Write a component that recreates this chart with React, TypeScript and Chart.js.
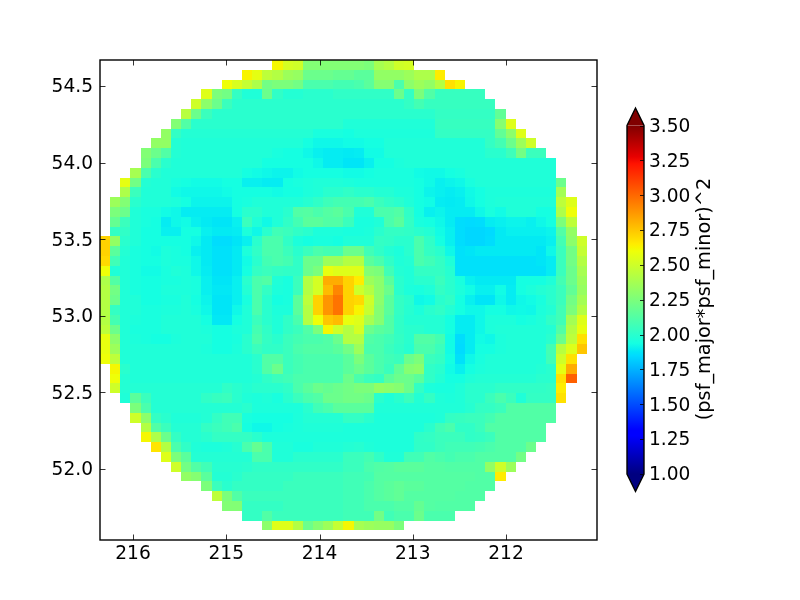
import React, { useEffect, useRef } from "react";
import { Chart, registerables } from "chart.js";

Chart.register(...registerables);

const colorLabel = "(psf_major*psf_minor)^2";
const xTicks = [216, 215, 214, 213, 212];
const yTicks = [52.0, 52.5, 53.0, 53.5, 54.0, 54.5];
const cbTicks = [1.0, 1.25, 1.5, 1.75, 2.0, 2.25, 2.5, 2.75, 3.0, 3.25, 3.5];
const xLeft = 216.354;
const xRight = 211.024;
const yTop = 54.67;
const yBottom = 51.537;
const colStep = 0.10875;
const rowStep = 0.06397;
const vMin = 1.0;
const vMax = 3.5;

const jetR = [[0, 0], [0.35, 0], [0.66, 1], [0.89, 1], [1, 0.5]];
const jetG = [[0, 0], [0.125, 0], [0.375, 1], [0.64, 1], [0.91, 0], [1, 0]];
const jetB = [[0, 0.5], [0.11, 1], [0.34, 1], [0.65, 0], [1, 0]];

const rowStarts = [17, 14, 12, 10, 9, 8, 7, 6, 5, 4, 4, 3, 2, 2, 1, 1, 1, 1, 0, 0, 0, 0, 0, 0, 0, 0, 0, 0, 0, 0, 0, 1, 1, 1, 2, 3, 3, 4, 4, 5, 6, 7, 8, 10, 11, 12, 14, 16];

const row00 = [2.62,2.52,2.5,2.27,2.27,2.27,2.27,2.27,2.27,2.25,2.38,2.42,2.5,2.52];
const row01 = [2.63,2.57,2.45,2.42,2.35,2.33,2.2,2.2,2.2,2.18,2.18,2.15,2.15,2.32,2.32,2.32,2.35,2.4,2.4,2.65];
const row02 = [2.6,2.53,2.47,2.4,2.22,2.25,2.25,2.22,2.1,2.1,2.1,2.08,2.08,2.1,2.15,2.28,2.28,2.1,2.3,2.35,2.32,2.42,2.68,2.63];
const row03 = [2.55,2.25,2.22,2.03,1.97,1.97,2.2,2.02,1.98,1.98,2.0,2.0,2.0,2.02,2.02,2.02,2.02,2.02,2.02,2.2,2.03,2.25,2.12,2.04,2.04,2.04,2.04,2.04];
const row04 = [2.5,2.3,2.2,2.05,2.0,2.0,2.0,2.0,2.0,2.0,2.0,2.0,2.0,2.0,2.0,2.0,2.0,2.0,2.0,2.0,2.0,2.03,2.08,2.04,2.04,2.04,2.04,2.04,2.04,2.04];
const row05 = [2.43,2.2,2.05,2.0,2.0,2.0,2.0,2.0,2.0,2.0,2.0,2.0,2.0,2.0,2.0,2.0,2.0,2.0,2.0,2.0,2.0,2.0,2.0,2.0,2.0,2.03,2.03,2.03,2.03,2.03,2.03,2.17];
const row06 = [2.27,2.12,2.0,2.0,2.0,2.0,2.0,2.0,2.0,2.0,2.0,2.0,2.0,2.0,2.0,2.0,2.0,1.97,1.97,1.97,1.97,1.97,1.97,1.97,1.97,1.97,2.04,2.04,2.04,2.04,2.04,2.04,2.28,2.55];
const row07 = [2.32,2.03,1.98,1.98,1.98,1.98,1.98,1.98,1.98,1.98,1.98,1.98,1.98,1.98,1.98,1.95,1.95,1.95,1.94,1.96,1.96,1.96,1.96,1.96,1.96,1.96,1.96,2.03,2.03,2.03,2.03,2.03,2.03,2.17,2.3,2.55];
const row08 = [2.32,2.32,1.98,1.97,1.97,1.97,1.97,1.97,1.97,1.97,1.97,1.97,1.97,1.97,1.97,1.94,1.92,1.92,1.92,1.93,1.93,1.94,1.94,1.97,1.97,1.97,1.97,1.97,1.97,1.97,1.97,1.97,1.97,2.03,2.08,2.2,2.35,2.5];
const row09 = [2.27,2.2,2.12,1.98,1.97,1.97,1.97,1.97,1.97,1.97,1.97,1.97,1.97,1.95,1.94,1.94,1.92,1.9,1.89,1.89,1.885,1.89,1.93,1.93,1.97,1.97,1.97,1.97,1.97,1.97,1.97,1.97,1.97,1.97,2.0,2.0,2.06,2.22,2.05,2.05];
const row10 = [2.25,2.1,2.0,1.97,1.97,1.97,1.97,1.97,1.97,1.97,1.97,1.97,1.94,1.94,1.94,1.94,1.94,1.92,1.89,1.89,1.875,1.875,1.9,1.94,1.94,1.96,1.97,1.97,1.97,1.97,1.97,1.97,1.97,1.97,1.97,1.97,1.97,1.97,1.97,1.97,1.97];
const row11 = [2.38,2.1,2.0,1.97,1.97,1.97,1.97,1.97,1.97,1.97,1.97,1.94,1.93,1.92,1.91,1.91,1.93,1.94,1.94,1.94,1.94,1.93,1.93,1.94,1.95,1.95,1.95,1.95,1.93,1.925,1.925,1.94,1.95,1.97,1.97,1.97,1.97,1.97,1.97,1.97,1.97,1.97];
const row12 = [2.57,2.22,1.98,1.97,1.97,1.95,1.94,1.93,1.93,1.93,1.94,1.94,1.9,1.9,1.89,1.89,1.94,1.95,1.96,1.97,1.97,1.97,1.96,1.95,1.95,1.95,1.95,1.95,1.95,1.94,1.925,1.9,1.91,1.92,1.95,1.97,1.97,1.97,1.97,1.97,1.97,1.97,1.97,2.2];
const row13 = [2.4,2.05,1.97,1.97,1.97,1.93,1.92,1.92,1.92,1.92,1.93,1.94,1.94,1.94,1.94,1.93,1.94,1.94,1.96,1.97,2.0,2.0,2.02,2.0,2.0,1.98,1.98,1.96,1.96,1.94,1.91,1.9,1.89,1.9,1.925,1.94,1.96,1.96,1.96,1.96,1.96,1.96,1.96,2.37];
const row14 = [2.35,2.27,2.0,1.97,1.97,1.97,1.96,1.94,1.91,1.91,1.91,1.91,1.94,1.95,1.97,1.97,1.97,1.97,1.97,1.99,2.02,2.06,2.08,2.08,2.08,2.1,2.05,2.02,2.0,1.97,1.94,1.93,1.89,1.885,1.89,1.92,1.94,1.96,1.97,1.97,1.97,1.97,1.97,1.97,2.45,2.55];
const row15 = [2.25,2.2,1.97,1.95,1.95,1.93,1.92,1.89,1.89,1.89,1.89,1.89,1.94,2.0,2.0,1.97,1.97,2.0,2.12,2.13,2.1,2.13,2.15,2.1,1.97,1.97,2.1,2.1,2.12,2.02,1.94,1.9,1.91,1.89,1.89,1.89,1.92,1.95,1.93,1.97,1.97,1.97,1.94,1.94,2.4,2.6];
const row16 = [2.18,2.05,1.97,1.95,1.94,1.89,1.92,1.93,1.9,1.885,1.875,1.875,1.9,2.05,1.97,1.925,1.97,2.02,2.08,2.15,2.15,2.12,2.12,2.05,1.95,1.95,1.97,2.1,2.15,2.03,1.95,1.94,1.92,1.89,1.855,1.85,1.855,1.89,1.9,1.91,1.91,1.9,1.92,1.94,2.25,2.45];
const row17 = [2.03,2.02,1.97,1.94,1.94,1.9,1.9,1.94,1.94,1.9,1.885,1.885,1.89,1.96,1.92,2.0,2.07,2.05,2.02,2.0,1.96,1.96,1.96,1.95,1.95,1.96,2.0,2.03,2.03,2.02,2.0,1.98,1.93,1.9,1.855,1.84,1.84,1.85,1.885,1.9,1.9,1.9,1.9,1.91,2.12,2.32];
const row18 = [2.72,2.32,2.0,1.97,1.94,1.94,1.94,1.94,1.94,1.92,1.885,1.855,1.855,1.875,1.9,2.0,2.1,2.1,2.02,1.96,1.94,1.95,1.95,1.94,1.97,1.97,1.97,2.03,2.02,2.0,2.0,2.1,2.02,1.94,1.9,1.855,1.84,1.84,1.855,1.885,1.885,1.885,1.885,1.885,1.9,2.08,2.3,2.5];
const row19 = [2.72,2.15,1.98,1.95,1.94,1.93,1.96,1.95,1.94,1.9,1.885,1.865,1.865,1.885,1.96,2.02,2.1,2.1,2.05,2.0,2.05,2.1,2.08,2.08,2.2,2.2,2.07,2.02,1.98,1.96,2.0,2.1,2.03,2.0,1.92,1.865,1.875,1.885,1.885,1.885,1.885,1.885,1.885,1.875,1.92,2.05,2.22,2.47];
const row20 = [2.7,2.07,1.97,1.95,1.94,1.94,1.96,1.95,1.95,1.92,1.885,1.865,1.865,1.885,1.93,2.0,2.08,2.1,2.08,2.02,2.2,2.2,2.35,2.35,2.42,2.42,2.15,2.1,2.02,1.97,1.98,2.1,2.07,2.03,1.97,1.865,1.865,1.865,1.865,1.865,1.865,1.865,1.865,1.875,1.89,2.05,2.22,2.42];
const row21 = [2.6,1.97,1.97,1.95,1.93,1.93,1.95,1.97,1.96,1.92,1.89,1.865,1.865,1.885,1.94,2.03,2.05,2.03,2.02,2.02,2.2,2.25,2.58,2.55,2.55,2.55,2.27,2.25,2.07,1.98,1.97,2.03,2.03,2.03,1.99,1.865,1.865,1.865,1.865,1.865,1.865,1.865,1.865,1.865,1.89,2.05,2.2,2.38];
const row22 = [2.4,2.12,1.97,1.95,1.94,1.94,1.95,1.95,1.96,1.95,1.9,1.875,1.875,1.9,2.0,2.1,2.12,1.97,1.95,2.05,2.42,2.52,2.82,2.82,2.72,2.65,2.35,2.3,2.15,2.0,1.97,2.0,2.0,2.05,2.0,1.95,1.9,1.885,1.885,1.885,1.885,1.94,1.94,1.94,1.97,2.08,2.2,2.35];
const row23 = [2.42,2.22,1.97,1.95,1.94,1.94,1.96,1.96,1.96,1.95,1.9,1.88,1.88,1.9,1.98,2.1,2.03,1.96,1.95,2.05,2.42,2.52,2.78,2.92,2.72,2.5,2.42,2.3,2.2,2.0,1.96,1.95,1.97,2.03,2.0,1.96,1.93,1.9,1.9,1.93,1.89,1.94,1.96,1.98,2.0,2.05,2.17,2.33];
const row24 = [2.42,2.2,1.97,1.97,1.94,1.94,1.95,1.95,1.97,1.94,1.91,1.875,1.875,1.9,1.95,2.1,2.0,1.94,1.95,2.15,2.45,2.72,2.88,2.97,2.72,2.7,2.5,2.3,2.15,2.03,2.0,1.92,1.93,2.0,2.02,1.94,1.9,1.875,1.875,1.92,1.89,1.92,1.93,1.95,2.0,2.05,2.22,2.37];
const row25 = [2.42,2.03,1.97,1.97,1.95,1.95,1.96,1.96,1.97,1.95,1.92,1.875,1.875,1.92,1.97,2.1,2.0,1.96,1.96,2.15,2.42,2.72,2.88,2.97,2.72,2.63,2.48,2.28,2.15,2.03,1.99,1.96,2.0,2.02,1.98,1.94,1.92,1.92,1.94,1.94,1.92,1.925,1.92,1.96,1.98,2.07,2.25,2.42];
const row26 = [2.42,2.08,1.97,1.96,1.95,1.95,1.97,1.97,1.97,1.97,1.94,1.88,1.88,1.94,1.97,2.05,2.0,1.97,2.02,2.1,2.42,2.6,2.75,2.78,2.58,2.55,2.38,2.28,2.12,2.02,1.98,1.98,1.98,1.98,1.94,1.89,1.89,1.92,1.96,1.96,1.96,1.94,1.95,1.97,2.02,2.07,2.37,2.55];
const row27 = [2.45,2.2,1.97,1.95,1.95,1.95,1.97,1.97,1.97,1.97,1.96,1.94,1.94,1.96,1.97,2.08,2.02,1.97,2.02,2.05,2.12,2.25,2.62,2.5,2.42,2.52,2.2,2.15,2.12,2.02,2.0,2.0,1.98,1.98,1.94,1.89,1.89,1.92,1.96,1.97,1.97,1.97,1.97,1.97,1.98,2.12,2.42,2.58];
const row28 = [2.58,2.3,1.97,1.96,1.95,1.94,1.94,1.96,1.97,1.97,1.97,1.94,1.94,1.95,2.0,2.1,2.03,2.0,2.05,2.08,2.1,2.1,2.12,2.2,2.42,2.42,2.12,2.1,2.07,2.03,2.0,2.12,2.12,2.08,1.93,1.855,1.89,1.93,1.92,1.96,1.97,1.97,1.97,1.97,2.0,2.2,2.45,2.68];
const row29 = [2.58,2.35,1.97,1.97,1.97,1.97,1.97,1.97,1.97,1.97,1.96,1.94,1.94,1.96,2.0,2.05,2.02,2.02,2.05,2.1,2.12,2.12,2.12,2.15,2.22,2.35,2.1,2.1,2.05,2.02,1.99,2.1,2.1,2.05,1.93,1.85,1.89,1.94,1.94,1.96,1.97,1.97,1.97,1.97,2.08,2.43,2.55,2.75];
const row30 = [2.6,2.45,1.97,1.97,1.97,1.97,1.97,1.97,1.97,1.97,1.97,1.97,1.97,1.97,1.97,2.0,2.12,2.12,2.05,2.08,2.1,2.1,2.1,2.1,2.15,2.25,2.15,2.1,2.07,2.05,2.2,2.25,2.05,2.03,1.94,1.865,1.92,1.95,1.97,1.97,1.97,1.97,1.97,1.97,2.07,2.5,2.68];
const row31 = [2.62,2.0,1.97,1.97,1.97,1.97,1.97,1.97,1.97,1.97,1.97,1.97,1.97,1.97,2.0,2.12,2.2,2.05,2.08,2.1,2.1,2.1,2.1,2.15,2.2,2.15,2.1,2.05,2.17,2.28,2.3,2.02,2.0,1.93,1.9,1.94,1.96,1.97,1.97,1.97,1.97,1.97,1.98,2.0,2.57,2.82];
const row32 = [2.6,1.98,1.97,1.97,1.97,1.97,1.97,1.97,1.97,1.97,1.97,1.97,1.97,1.97,1.98,2.02,2.05,2.07,2.1,2.1,2.1,2.1,2.1,2.2,2.1,2.05,2.03,2.15,2.2,2.2,2.15,2.02,1.98,1.94,1.94,1.97,1.98,1.98,1.98,1.98,1.98,1.98,2.0,2.0,2.68,3.02];
const row33 = [2.5,1.98,1.98,1.98,1.98,1.98,1.98,1.98,1.98,1.98,1.98,2.02,2.0,1.98,2.0,2.0,2.0,2.02,2.1,2.15,2.2,2.18,2.2,2.22,2.25,2.25,2.32,2.3,2.28,2.2,2.03,1.96,1.95,1.95,1.97,2.0,2.0,2.0,2.02,2.02,2.02,2.02,2.02,2.03,2.65];
const row34 = [1.97,2.15,2.05,1.98,1.98,1.98,1.98,1.98,2.02,2.04,2.05,2.0,1.97,1.96,1.97,1.95,2.0,2.05,2.1,2.12,2.2,2.2,2.22,2.22,2.2,2.0,1.97,2.0,2.05,1.98,2.03,1.97,1.96,1.97,2.0,2.0,2.05,2.1,2.05,1.97,2.03,2.03,2.03,2.68];
const row35 = [2.25,2.1,1.98,1.98,1.98,1.98,1.98,1.98,1.98,1.98,1.98,2.0,1.96,1.96,1.96,1.96,1.96,2.0,2.07,2.1,2.15,2.15,2.15,2.15,1.97,1.97,1.97,1.97,1.97,1.97,1.97,1.97,1.97,1.99,2.03,2.03,2.05,2.12,2.12,2.12,2.12,2.12];
const row36 = [2.5,2.3,2.03,2.0,1.97,1.97,1.97,1.98,2.03,2.07,2.07,1.95,1.94,1.94,1.94,1.94,1.96,1.98,1.98,1.98,1.98,2.03,2.03,2.0,1.96,1.96,1.96,1.96,1.96,1.96,1.97,2.03,2.04,2.05,2.05,2.08,2.12,2.12,2.12,2.12,2.12,2.12];
const row37 = [2.42,2.12,2.05,1.98,1.98,1.98,2.03,2.05,2.07,2.1,1.94,1.92,1.92,1.94,1.95,1.96,1.97,1.97,1.97,1.97,1.96,1.96,1.96,1.96,1.96,1.96,1.96,1.96,2.0,2.07,2.1,2.02,2.02,2.05,2.12,2.12,2.12,2.12,2.12,2.12];
const row38 = [2.62,2.4,2.2,2.03,1.98,1.98,2.0,2.03,2.03,2.03,2.03,2.0,1.96,1.96,1.96,1.96,1.96,1.96,1.96,1.96,1.96,1.96,1.96,1.96,1.96,1.96,1.96,2.02,2.03,2.05,2.05,2.05,2.02,2.03,2.05,2.12,2.12,2.12,2.12,2.12];
const row39 = [2.67,2.42,2.1,2.02,1.97,1.96,1.96,1.97,1.99,2.1,2.18,2.1,1.97,1.97,1.95,1.95,1.97,1.97,1.97,1.98,1.99,1.97,1.96,1.96,1.96,1.96,2.02,2.02,2.05,2.07,2.07,2.07,2.08,2.1,2.12,2.12,2.12,2.2];
const row40 = [2.55,2.25,2.15,1.98,1.98,1.98,1.98,1.98,1.98,2.1,2.1,1.97,1.97,2.0,2.0,2.0,2.0,2.0,2.05,2.05,2.08,2.02,1.97,1.97,2.07,2.07,2.12,2.1,2.08,2.1,2.1,2.12,2.12,2.12,2.12,2.22];
const row41 = [2.5,2.22,2.12,2.07,1.99,1.99,1.99,2.0,2.02,2.02,2.02,2.02,2.02,2.02,2.02,2.02,2.02,2.05,2.05,2.1,2.12,2.13,2.15,2.15,2.15,2.13,2.13,2.12,2.12,2.12,2.12,2.32,2.5,2.35];
const row42 = [2.32,2.28,2.15,1.98,1.98,2.0,2.03,2.03,2.03,2.03,2.03,2.05,2.05,2.05,2.05,2.05,2.07,2.07,2.08,2.13,2.13,2.13,2.13,2.13,2.13,2.13,2.13,2.13,2.13,2.12,2.12,2.65];
const row43 = [2.25,2.05,2.0,2.03,2.03,2.03,2.03,2.03,2.05,2.05,2.05,2.05,2.05,2.05,2.07,2.07,2.1,2.13,2.15,2.17,2.15,2.15,2.13,2.13,2.13,2.13,2.12,2.12,2.12];
const row44 = [2.45,2.25,2.12,2.05,2.05,2.05,2.05,2.05,2.05,2.05,2.05,2.05,2.05,2.07,2.07,2.1,2.13,2.15,2.17,2.13,2.13,2.13,2.13,2.13,2.12,2.12,2.12];
const row45 = [2.27,2.27,2.03,2.03,2.03,2.03,2.05,2.05,2.05,2.05,2.05,2.05,2.07,2.07,2.1,2.1,2.1,2.12,2.12,2.18,2.13,2.12,2.12,2.12,2.12];
const row46 = [2.03,2.03,2.12,2.05,2.05,2.05,2.05,2.05,2.05,2.05,2.07,2.07,2.07,2.22,2.07,2.1,2.1,2.2,2.1,2.1,2.1];
const row47 = [2.3,2.55,2.55,2.42,2.2,2.28,2.35,2.47,2.62,2.38,2.35,2.33,2.33,2.25];

const rows = [row00,row01,row02,row03,row04,row05,row06,row07,row08,row09,row10,row11,row12,row13,row14,row15,row16,row17,row18,row19,row20,row21,row22,row23,row24,row25,row26,row27,row28,row29,row30,row31,row32,row33,row34,row35,row36,row37,row38,row39,row40,row41,row42,row43,row44,row45,row46,row47];

const FONT = { family: "'DejaVu Sans'", size: 18.6 };

function lerp(stops: number[][], t: number) {
  for (let i = 1; i < stops.length; i++) {
    if (t <= stops[i][0]) {
      const [a, av] = stops[i - 1];
      const [b, bv] = stops[i];
      return av + ((bv - av) * (t - a)) / (b - a);
    }
  }
  return stops[stops.length - 1][1];
}

function jet(t: number) {
  const k = Math.min(1, Math.max(0, t));
  const c = (s: number[][]) => Math.round(lerp(s, k) * 255);
  return `rgb(${c(jetR)},${c(jetG)},${c(jetB)})`;
}

const colorOf = (v: number) => jet((v - vMin) / (vMax - vMin));

const cells = rows.flatMap((row, r) =>
  row.map((v, i) => ({
    x: xLeft - (rowStarts[r] + i + 0.5) * colStep,
    y: yTop - (r + 0.5) * rowStep,
    v,
  }))
);

function inwardTicks(ctx: CanvasRenderingContext2D, chart: any, len: number, both: boolean) {
  const { left, right, top, bottom } = chart.chartArea;
  ctx.strokeStyle = "#000";
  ctx.lineWidth = 0.8;
  ctx.beginPath();
  if (both) {
    for (const t of chart.scales.x.ticks) {
      const p = Math.round(chart.scales.x.getPixelForValue(t.value)) + 0.5;
      ctx.moveTo(p, bottom);
      ctx.lineTo(p, bottom - len);
      ctx.moveTo(p, top);
      ctx.lineTo(p, top + len);
    }
  }
  for (const t of chart.scales.y.ticks) {
    const p = Math.round(chart.scales.y.getPixelForValue(t.value)) + 0.5;
    if (both) {
      ctx.moveTo(left, p);
      ctx.lineTo(left + len, p);
    }
    ctx.moveTo(right, p);
    ctx.lineTo(right - len, p);
  }
  ctx.stroke();
}

const heatmapPlugin = {
  id: "heatmapCells",
  beforeDatasetsDraw(chart: any) {
    const { ctx, scales } = chart;
    ctx.save();
    for (const d of chart.data.datasets[0].data) {
      const x0 = Math.round(scales.x.getPixelForValue(d.x + colStep / 2));
      const x1 = Math.round(scales.x.getPixelForValue(d.x - colStep / 2));
      const y0 = Math.round(scales.y.getPixelForValue(d.y + rowStep / 2));
      const y1 = Math.round(scales.y.getPixelForValue(d.y - rowStep / 2));
      ctx.fillStyle = colorOf(d.v);
      ctx.fillRect(x0, y0, x1 - x0, y1 - y0);
    }
    ctx.restore();
  },
  afterDraw(chart: any) {
    const { ctx, chartArea } = chart;
    ctx.save();
    inwardTicks(ctx, chart, 5.5, true);
    ctx.strokeStyle = "#000";
    ctx.lineWidth = 1.4;
    ctx.strokeRect(chartArea.left, chartArea.top, chartArea.right - chartArea.left, chartArea.bottom - chartArea.top);
    ctx.restore();
  },
};

const colorbarPlugin = {
  id: "colorbarFrame",
  afterDraw(chart: any) {
    const { ctx, chartArea } = chart;
    const { left, right, top, bottom } = chartArea;
    const mid = (left + right) / 2;
    const tip = 17.5;
    ctx.save();
    ctx.fillStyle = jet(1);
    ctx.beginPath();
    ctx.moveTo(left, top);
    ctx.lineTo(mid, top - tip);
    ctx.lineTo(right, top);
    ctx.closePath();
    ctx.fill();
    ctx.fillStyle = jet(0);
    ctx.beginPath();
    ctx.moveTo(left, bottom);
    ctx.lineTo(mid, bottom + tip);
    ctx.lineTo(right, bottom);
    ctx.closePath();
    ctx.fill();
    inwardTicks(ctx, chart, 4, false);
    ctx.strokeStyle = "#000";
    ctx.lineWidth = 1.4;
    ctx.beginPath();
    ctx.moveTo(left, top);
    ctx.lineTo(mid, top - tip);
    ctx.lineTo(right, top);
    ctx.lineTo(right, bottom);
    ctx.lineTo(mid, bottom + tip);
    ctx.lineTo(left, bottom);
    ctx.closePath();
    ctx.stroke();
    ctx.translate(705, 299);
    ctx.rotate(-Math.PI / 2);
    ctx.fillStyle = "#000";
    ctx.font = `19.3px ${FONT.family}`;
    ctx.textAlign = "center";
    ctx.textBaseline = "middle";
    ctx.fillText(colorLabel, 0, 0);
    ctx.restore();
  },
};

const noGrid = { display: false, drawTicks: false };

export default function App() {
  const mainRef = useRef<HTMLCanvasElement>(null);
  const barRef = useRef<HTMLCanvasElement>(null);

  useEffect(() => {
    const main = new Chart(mainRef.current!, {
      type: "scatter",
      data: { datasets: [{ data: cells, pointRadius: 0, pointHoverRadius: 0 }] },
      plugins: [heatmapPlugin],
      options: {
        animation: false,
        responsive: false,
        devicePixelRatio: 1,
        events: [],
        layout: { padding: { top: 60, right: 203, left: 0, bottom: 0 } },
        plugins: { legend: { display: false }, tooltip: { enabled: false } },
        scales: {
          x: {
            type: "linear",
            reverse: true,
            min: xRight,
            max: xLeft,
            grid: noGrid,
            border: { display: false },
            afterBuildTicks: (s: any) => { s.ticks = xTicks.map((value) => ({ value })); },
            afterFit: (s: any) => { s.height = 60; },
            ticks: { color: "#000", font: FONT, padding: 3, maxRotation: 0, autoSkip: false, callback: (v: any) => String(v) },
          },
          y: {
            type: "linear",
            min: yBottom,
            max: yTop,
            grid: noGrid,
            border: { display: false },
            afterBuildTicks: (s: any) => { s.ticks = yTicks.map((value) => ({ value })); },
            afterFit: (s: any) => { s.width = 100; },
            ticks: { color: "#000", font: FONT, padding: 7, labelOffset: 1.5, autoSkip: false, callback: (v: any) => Number(v).toFixed(1) },
          },
        },
      },
    } as any);

    const stops = [0, 0.11, 0.125, 0.34, 0.35, 0.375, 0.64, 0.65, 0.66, 0.89, 0.91, 1];
    const bar = new Chart(barRef.current!, {
      type: "bar",
      data: {
        labels: [""],
        datasets: [
          {
            data: [[vMin, vMax]],
            borderWidth: 0,
            barPercentage: 1,
            categoryPercentage: 1,
            backgroundColor: (c: any) => {
              const a = c.chart.chartArea;
              if (!a) return "#000";
              const g = c.chart.ctx.createLinearGradient(0, a.bottom, 0, a.top);
              stops.forEach((s) => g.addColorStop(s, jet(s)));
              return g;
            },
          },
        ],
      },
      plugins: [colorbarPlugin],
      options: {
        animation: false,
        responsive: false,
        devicePixelRatio: 1,
        events: [],
        layout: { padding: { left: 627, top: 125.5, bottom: 126, right: 0 } },
        plugins: { legend: { display: false }, tooltip: { enabled: false } },
        scales: {
          x: { display: false, grid: noGrid },
          y: {
            position: "right",
            type: "linear",
            min: vMin,
            max: vMax,
            grid: noGrid,
            border: { display: false },
            afterBuildTicks: (s: any) => { s.ticks = cbTicks.map((value) => ({ value })); },
            afterFit: (s: any) => { s.width = 800 - 627 - 17; },
            ticks: { color: "#000", font: FONT, padding: 5, labelOffset: 1.5, autoSkip: false, callback: (v: any) => Number(v).toFixed(2) },
            title: { display: false },
          },
        },
      },
    } as any);

    return () => {
      main.destroy();
      bar.destroy();
    };
  }, []);

  const abs: React.CSSProperties = { position: "absolute", left: 0, top: 0 };
  return (
    <div style={{ ...abs, width: 800, height: 600, background: "#fff" }}>
      <canvas ref={mainRef} width={800} height={600} style={abs} />
      <canvas ref={barRef} width={800} height={600} style={abs} />
    </div>
  );
}
